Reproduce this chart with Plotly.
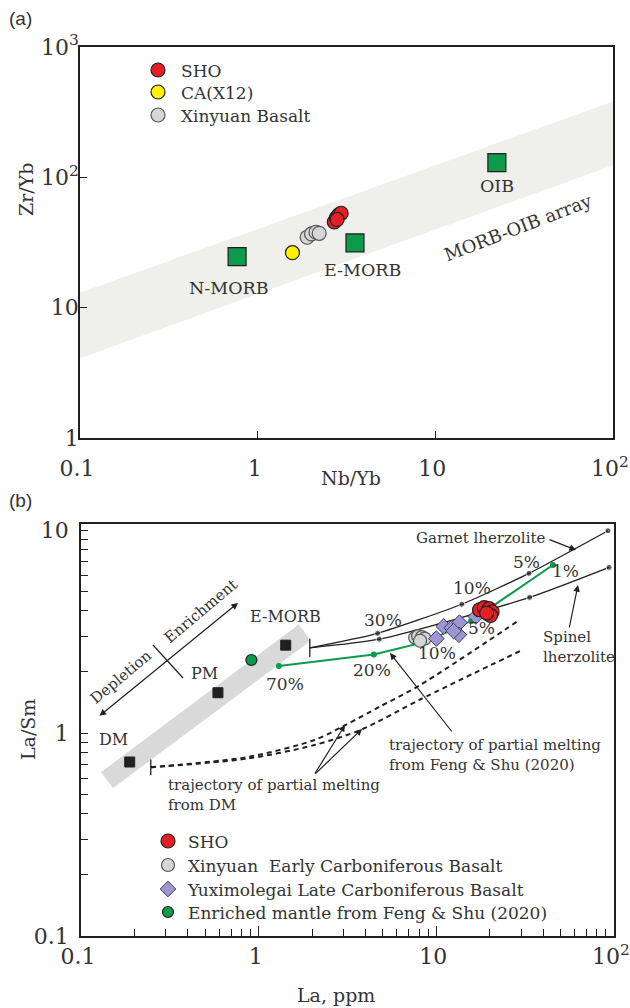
import numpy as np
import plotly.graph_objects as go

W, H = 630, 1008
SERIF = "DejaVu Serif, Liberation Serif, serif"
SANS = "Liberation Sans, Arial, sans-serif"
INK = "#231f20"
TXT = "#333333"
GREEN = "#0e9a4b"

# ---------------- (a) Nb/Yb vs Zr/Yb ----------------
sho_nbyb = [2.70, 2.78, 2.86, 2.95, 2.80]
sho_zryb = [45.5, 49.0, 51.5, 53.0, 47.5]
ca_nbyb = [1.57]
ca_zryb = [26.4]
xinyuan_nbyb = [1.90, 2.01, 2.13, 2.22]
xinyuan_zryb = [34.7, 36.8, 37.9, 37.2]
ref_names = ["N-MORB", "E-MORB", "OIB"]
ref_nbyb = [0.766, 3.53, 22.2]
ref_zryb = [24.6, 31.4, 129.6]
# MORB-OIB array envelope
array_nbyb = [0.1, 100]
array_upper = [13.0, 381.0]
array_lower = [4.1, 124.0]

# ---------------- (b) La vs La/Sm ----------------
sho_la = [17.5, 18.6, 19.8, 20.6, 20.2, 19.2]
sho_lasm = [4.05, 4.15, 4.10, 3.95, 3.80, 3.90]
xy_la = [7.6, 7.9, 8.3, 8.6, 8.1]
xy_lasm = [2.95, 3.00, 2.97, 2.92, 2.85]
yux_la = [10.0, 11.0, 12.2, 13.5, 13.4, 12.5, 16.7]
yux_lasm = [2.92, 3.35, 3.30, 3.50, 3.05, 3.18, 3.75]
em_la = [0.91]
em_lasm = [2.29]
res_names = ["DM", "PM", "E-MORB"]
res_la = [0.188, 0.59, 1.42]
res_lasm = [0.72, 1.58, 2.71]
# depletion-enrichment band (end points)
band_la = [0.140, 1.82]
band_lasm = [0.586, 3.13]
# melting curves
garnet_la = [1.94, 4.67, 13.9, 33.2, 92.5]
garnet_lasm = [2.63, 3.10, 4.31, 6.12, 9.93]
spinel_la = [1.94, 4.77, 33.5, 93.8]
spinel_lasm = [2.63, 2.90, 4.66, 6.55]
feng_la = [1.30, 4.45, 8.8, 15.7, 45.3]
feng_lasm = [2.14, 2.44, 2.82, 3.57, 6.73]
dm_upper_la = [0.247, 0.882, 2.06, 3.07, 4.81, 8.07, 29.4]
dm_upper_lasm = [0.678, 0.764, 0.924, 1.094, 1.35, 1.72, 3.61]
dm_lower_la = [0.247, 0.882, 2.06, 3.79, 8.07, 30.8]
dm_lower_lasm = [0.678, 0.750, 0.873, 1.04, 1.46, 2.58]

x_ticks = [0.1, 1, 10, 100]
x_ticktext = ["0.1", "1", "10", "10<sup>2</sup>"]
ya_ticks = [1, 10, 100, 1000]
ya_ticktext = ["1", "10", "10<sup>2</sup>", "10<sup>3</sup>"]
yb_ticks = [0.1, 1, 10]
yb_ticktext = ["0.1", "1", "10"]
minor_vals = [m * d for d in (0.1, 1, 10) for m in range(2, 10)]

# one legend box per entry so each row sits where it belongs
LEG_A_FONT, LEG_B_FONT = 17, 17


def leg_top(center_px, size):
    h = max(1.3 * size, 16) + 3
    return 1 - (center_px - h / 2 - 5) / H


def leg_box(left_px, center_px, size, itemwidth=30):
    return dict(x=left_px / W, y=leg_top(center_px, size), xanchor="left", yanchor="top",
                bgcolor="rgba(0,0,0,0)", itemsizing="trace", itemwidth=itemwidth,
                font=dict(family=SERIF, size=size, color=TXT))


fig = go.Figure()

# ---- panel (a) ----
fig.add_trace(go.Scatter(
    x=array_nbyb + array_nbyb[::-1], y=array_upper + array_lower[::-1],
    fill="toself", fillcolor="#efefeb", line=dict(width=0), mode="lines",
    hoverinfo="skip", showlegend=False, xaxis="x", yaxis="y"))
fig.add_trace(go.Scatter(
    x=ref_nbyb, y=ref_zryb, mode="markers", showlegend=False,
    marker=dict(symbol="square", size=18, color=GREEN, line=dict(color=INK, width=1.2)),
    xaxis="x", yaxis="y"))
fig.add_trace(go.Scatter(
    x=xinyuan_nbyb, y=xinyuan_zryb, mode="markers", name="Xinyuan Basalt",
    legend="legend3",
    marker=dict(symbol="circle", size=14, color="#d6d6d6", line=dict(color="#555555", width=1.2)),
    xaxis="x", yaxis="y"))
fig.add_trace(go.Scatter(
    x=ca_nbyb, y=ca_zryb, mode="markers", name="CA(X12)",
    legend="legend2",
    marker=dict(symbol="circle", size=14, color="#fff200", line=dict(color=INK, width=1.2)),
    xaxis="x", yaxis="y"))
fig.add_trace(go.Scatter(
    x=sho_nbyb, y=sho_zryb, mode="markers", name="SHO",
    legend="legend",
    marker=dict(symbol="circle", size=14, color="#e51f26", line=dict(color=INK, width=1.2)),
    xaxis="x", yaxis="y"))

# ---- panel (b) ----
fig.add_trace(go.Scatter(
    x=band_la, y=band_lasm, mode="lines", line=dict(color="#d9d9d9", width=20),
    hoverinfo="skip", showlegend=False, xaxis="x2", yaxis="y2"))
for xs, ys in ((dm_upper_la, dm_upper_lasm), (dm_lower_la, dm_lower_lasm)):
    fig.add_trace(go.Scatter(
        x=xs, y=ys, mode="lines", showlegend=False,
        line=dict(color=INK, width=2, dash="5px,4px", shape="spline", smoothing=0.8),
        xaxis="x2", yaxis="y2"))
fig.add_trace(go.Scatter(
    x=dm_upper_la[:1], y=dm_upper_lasm[:1], mode="markers", showlegend=False,
    marker=dict(symbol="line-ns", size=11, line=dict(color=INK, width=1.3)),
    xaxis="x2", yaxis="y2"))
for xs, ys in ((garnet_la, garnet_lasm), (spinel_la, spinel_lasm)):
    fig.add_trace(go.Scatter(
        x=xs, y=ys, mode="lines+markers", showlegend=False,
        line=dict(color=INK, width=1.3, shape="spline", smoothing=0.6),
        marker=dict(size=[0] + [6] * (len(xs) - 1), color=INK),
        xaxis="x2", yaxis="y2"))
fig.add_trace(go.Scatter(
    x=garnet_la[:1], y=garnet_lasm[:1], mode="markers", showlegend=False,
    marker=dict(symbol="line-ns", size=13, line=dict(color=INK, width=1.3)),
    xaxis="x2", yaxis="y2"))
fig.add_trace(go.Scatter(
    x=feng_la, y=feng_lasm, mode="lines+markers", showlegend=False,
    line=dict(color=GREEN, width=2), marker=dict(size=6, color=GREEN),
    xaxis="x2", yaxis="y2"))
fig.add_trace(go.Scatter(
    x=res_la, y=res_lasm, mode="markers", showlegend=False,
    marker=dict(symbol="square", size=10, color=INK, line=dict(color=INK, width=1)),
    xaxis="x2", yaxis="y2"))
fig.add_trace(go.Scatter(
    x=em_la, y=em_lasm, mode="markers", name="Enriched mantle from Feng &amp; Shu (2020)",
    legend="legend7",
    marker=dict(symbol="circle", size=11, color=GREEN, line=dict(color=INK, width=1.2)),
    xaxis="x2", yaxis="y2"))
fig.add_trace(go.Scatter(
    x=xy_la, y=xy_lasm, mode="markers", name="Xinyuan  Early Carboniferous Basalt",
    legend="legend5",
    marker=dict(symbol="circle", size=13, color="#d6d6d6", line=dict(color="#555555", width=1.2)),
    xaxis="x2", yaxis="y2"))
fig.add_trace(go.Scatter(
    x=yux_la, y=yux_lasm, mode="markers", name="Yuximolegai Late Carboniferous Basalt",
    legend="legend6",
    marker=dict(symbol="diamond", size=12, color="#9d95d4", line=dict(color="#3d3d5c", width=1)),
    xaxis="x2", yaxis="y2"))
fig.add_trace(go.Scatter(
    x=sho_la, y=sho_lasm, mode="markers", name="SHO",
    legend="legend4",
    marker=dict(symbol="circle", size=14, color="#e51f26", line=dict(color=INK, width=1.2)),
    xaxis="x2", yaxis="y2"))


def txt(px, py, s, size=15, angle=0, xanchor="center", font=SERIF, align="center"):
    return dict(x=px / W, y=1 - py / H, xref="paper", yref="paper", text=s,
                showarrow=False, textangle=angle, xanchor=xanchor, yanchor="middle",
                align=align, font=dict(family=font, size=size, color=TXT))


def arrow(hx, hy, tx, ty, both=False):
    return dict(x=hx / W, y=1 - hy / H, xref="paper", yref="paper",
                ax=tx - hx, ay=ty - hy, axref="pixel", ayref="pixel", text="",
                showarrow=True, arrowhead=2, arrowsize=1.1, arrowwidth=1.2,
                arrowcolor=INK, standoff=0, startstandoff=0,
                startarrowhead=2, startarrowsize=1.1,
                arrowside="end+start" if both else "end")


def pt_label(xv, yv, s, dx, dy, xr, yr, size=16):
    return dict(x=np.log10(xv), y=np.log10(yv), xref=xr, yref=yr, text=s,
                showarrow=False, xshift=dx, yshift=-dy,
                font=dict(family=SERIF, size=size, color=TXT))


ann = []
# panel labels and axis titles
ann.append(txt(20, 18, "(a)", size=19, font=SANS))
ann.append(txt(20, 500, "(b)", size=19, font=SANS))
ann.append(txt(26, 190, "Zr/Yb", size=19, angle=-90))
ann.append(txt(351, 478, "Nb/Yb", size=19))
ann.append(txt(28, 730, "La/Sm", size=19, angle=-90))
ann.append(txt(336, 995, "La, ppm", size=19))

# panel (a) annotations
shifts_a = {"N-MORB": (-8, 31), "E-MORB": (8, 27), "OIB": (0, 23)}
for n, xv, yv in zip(ref_names, ref_nbyb, ref_zryb):
    dx, dy = shifts_a[n]
    ann.append(pt_label(xv, yv, n, dx, dy, "x", "y", size=17.5))
ann.append(txt(518, 228, "MORB-OIB array", size=18, angle=-21))

# panel (b) annotations
shifts_b = {"DM": (-16, -23), "PM": (-13, -19), "E-MORB": (0, -29)}
for n, xv, yv in zip(res_names, res_la, res_lasm):
    dx, dy = shifts_b[n]
    ann.append(pt_label(xv, yv, n, dx, dy, "x2", "y2", size=16))
ann.append(txt(121, 677, "Depletion", size=15, angle=-40))
ann.append(txt(201, 611, "Enrichment", size=15, angle=-40))
ann.append(arrow(238, 603, 98, 717, both=True))
for s, px, py in (("70%", 285, 684), ("20%", 372, 670), ("30%", 383, 620),
                  ("10%", 472, 588), ("5%", 526, 562), ("1%", 565, 571),
                  ("5%", 482, 628), ("10%", 437, 653)):
    ann.append(txt(px, py, s, size=17))
ann.append(txt(481, 538, "Garnet lherzolite", size=15))
ann.append(arrow(576, 550, 548, 539))
ann.append(txt(541, 647, "Spinel<br>lherzolite", size=15, xanchor="left", align="left"))
ann.append(arrow(578, 585, 569, 629))
ann.append(txt(387, 755, "trajectory of partial melting<br>from Feng &amp; Shu (2020)",
               size=15, xanchor="left", align="left"))
ann.append(arrow(390, 653, 453, 733))
ann.append(txt(166, 795, "trajectory of partial melting<br>from DM",
               size=15, xanchor="left", align="left"))
ann.append(arrow(345, 725, 314, 775))
ann.append(arrow(362, 729, 314, 775))

shapes = [dict(type="line", xref="paper", yref="paper",
               x0=153 / W, y0=1 - 645 / H, x1=183 / W, y1=1 - 678 / H,
               line=dict(color=INK, width=1.2))]

axis_common = dict(type="log", showgrid=False, zeroline=False, showline=True,
                   linecolor=INK, linewidth=1.5, mirror=True, ticks="inside",
                   tickcolor=INK, tickwidth=1.3, automargin=False,
                   ticklabeloverflow="allow",
                   tickfont=dict(family=SERIF, size=22, color=TXT))

fig.update_layout(
    width=W, height=H, margin=dict(l=0, r=0, t=0, b=0, pad=0, autoexpand=False),
    paper_bgcolor="white", plot_bgcolor="white",
    xaxis=dict(axis_common, domain=[80 / W, 613 / W], range=[-1, 2], anchor="y",
               tickvals=x_ticks, ticktext=x_ticktext, ticklen=7, ticklabelstandoff=10,
               ticklabelshift=-3),
    yaxis=dict(axis_common, domain=[1 - 438 / H, 1 - 47 / H], range=[0, 3], anchor="x",
               tickvals=ya_ticks, ticktext=ya_ticktext, ticklen=7, ticklabelstandoff=-5),
    xaxis2=dict(axis_common, domain=[81 / W, 614 / W], range=[-1, 2], anchor="y2",
                tickvals=x_ticks, ticktext=x_ticktext, ticklen=10, ticklabelstandoff=0,
                ticklabelshift=-3,
                minor=dict(tickvals=minor_vals, ticks="inside", ticklen=7,
                           tickcolor=INK, tickwidth=1.2)),
    yaxis2=dict(axis_common, domain=[1 - 936 / H, 1 - 524 / H], range=[-1, 1.03],
                anchor="x2", tickvals=yb_ticks, ticktext=yb_ticktext, ticklen=7,
                ticklabelstandoff=6,
                minor=dict(tickvals=minor_vals, ticks="inside", ticklen=7,
                           tickcolor=INK, tickwidth=1.2)),
    legend=leg_box(135, 70, LEG_A_FONT, 36),
    legend2=leg_box(135, 92, LEG_A_FONT, 36),
    legend3=leg_box(135, 115, LEG_A_FONT, 36),
    legend4=leg_box(148, 841, LEG_B_FONT),
    legend5=leg_box(148, 865, LEG_B_FONT),
    legend6=leg_box(148, 889, LEG_B_FONT),
    legend7=leg_box(148, 912, LEG_B_FONT),
    annotations=ann, shapes=shapes, showlegend=True,
)

fig.write_html("out.html")
